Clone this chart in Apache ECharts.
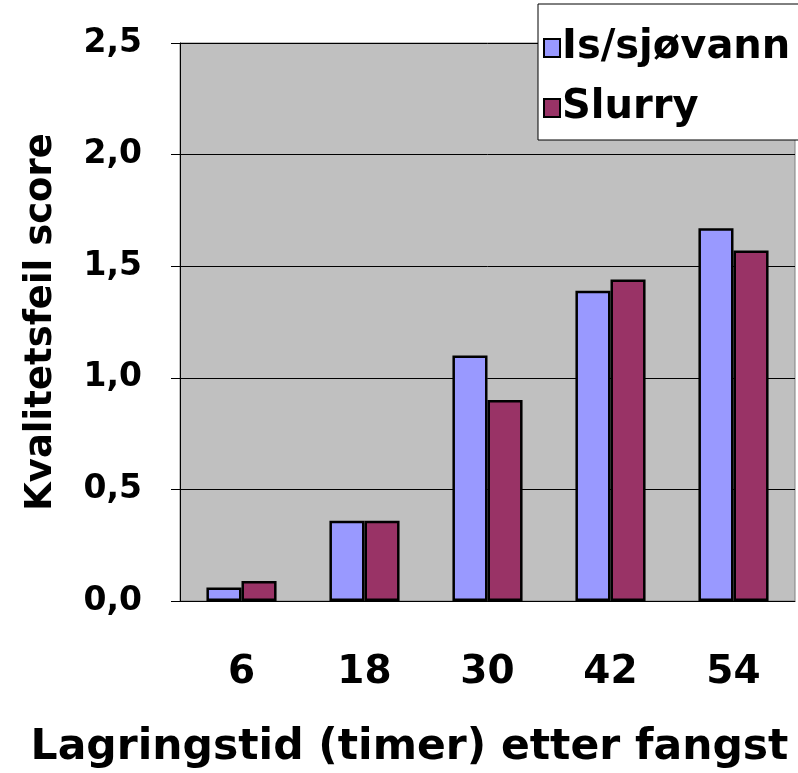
<!DOCTYPE html>
<html><head><meta charset="utf-8">
<script src="https://cdn.jsdelivr.net/npm/echarts@6/dist/echarts.min.js"></script>
<style>html,body{margin:0;padding:0;background:#fff}#c{width:798px;height:773px}</style>
</head><body><div id="c"></div>
<script>
const categories = ['6', '18', '30', '42', '54'];
const isSjovann = [0.06, 0.36, 1.10, 1.39, 1.67];
const slurry = [0.09, 0.36, 0.90, 1.44, 1.57];
const yTicks = [0, 0.5, 1.0, 1.5, 2.0, 2.5];
const seriesNames = ['Is/sjøvann', 'Slurry'];
const xTitle = 'Lagringstid (timer) etter fangst';
const yTitle = 'Kvalitetsfeil score';

const FONT = 'DejaVu Sans';
const chart = echarts.init(document.getElementById('c'), null, {renderer: 'canvas'});
chart.setOption({
  animation: false,
  backgroundColor: '#fff',
  grid: {left: 180, right: 3, top: 43, bottom: 172, outerBoundsMode: 'none', containLabel: false,
    show: true, backgroundColor: '#C0C0C0', borderColor: '#808080', borderWidth: 1},
  legend: {
    orient: 'vertical', left: 538, top: 4,
    data: seriesNames,
    backgroundColor: '#fff', borderColor: '#000', borderWidth: 1,
    padding: [24, 40, 12, 5],
    itemWidth: 16, itemHeight: 18, itemGap: 20,
    icon: 'rect',
    textStyle: {fontFamily: FONT, fontWeight: 'bold', fontSize: 40, color: '#000', padding: [0, 0, 0, -3]}
  },
  xAxis: {
    type: 'category', data: categories,
    name: xTitle, nameLocation: 'middle', nameGap: 125,
    nameTextStyle: {fontFamily: FONT, fontWeight: 'bold', fontSize: 42.5, color: '#000', padding: [0, 156, 0, 0]},
    axisLine: {lineStyle: {color: '#000', width: 1}},
    axisTick: {length: 12, lineStyle: {color: '#000'}},
    axisLabel: {fontFamily: FONT, fontWeight: 'bold', fontSize: 39, color: '#000', margin: 52}
  },
  yAxis: {
    type: 'value', min: 0, max: 2.5, interval: 0.5,
    name: yTitle, nameLocation: 'middle', nameGap: 120,
    nameTextStyle: {fontFamily: FONT, fontWeight: 'bold', fontSize: 37, color: '#000'},
    axisLine: {show: true, lineStyle: {color: '#000', width: 1}},
    axisTick: {show: true, length: 9, lineStyle: {color: '#000'}},
    splitLine: {lineStyle: {color: '#000', width: 1}},
    axisLabel: {fontFamily: FONT, fontWeight: 'bold', fontSize: 33, color: '#000', margin: 38,
      formatter: v => v.toFixed(1).replace('.', ',')}
  },
  series: [
    {name: seriesNames[0], type: 'bar', data: isSjovann, barGap: '0%', barCategoryGap: '43%',
     itemStyle: {color: '#9999FF', borderColor: '#000', borderWidth: 2.5}},
    {name: seriesNames[1], type: 'bar', data: slurry,
     itemStyle: {color: '#993366', borderColor: '#000', borderWidth: 2.5}}
  ]
});
</script></body></html>
